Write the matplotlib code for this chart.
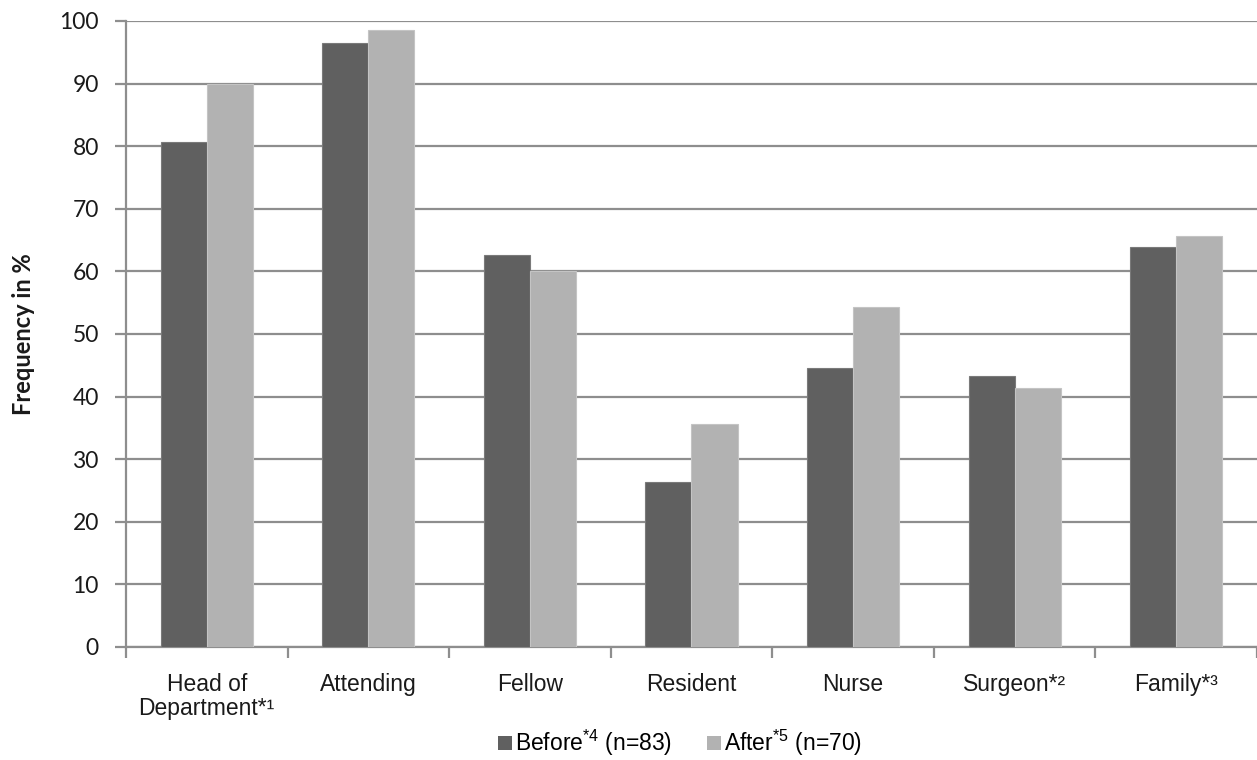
import matplotlib
matplotlib.use("Agg")
import matplotlib.pyplot as plt
import numpy as np
from matplotlib.patches import Patch

plt.rcParams["mathtext.fontset"] = "custom"
plt.rcParams["mathtext.rm"] = "Liberation Sans"
plt.rcParams["mathtext.it"] = "Liberation Sans:italic"
plt.rcParams["mathtext.bf"] = "Liberation Sans:bold"

categories = ["Head of\nDepartment*¹", "Attending", "Fellow", "Resident",
              "Nurse", "Surgeon*²", "Family*³"]
before = [80.7, 96.5, 62.6, 26.4, 44.6, 43.3, 63.9]
after = [90.0, 98.6, 60.1, 35.6, 54.3, 41.4, 65.7]
series_labels = ["Before$^{\\mathregular{*4}}$ (n=83)", "After$^{\\mathregular{*5}}$ (n=70)"]
y_ticks = list(range(0, 101, 10))

dark = "#606060"
light = "#b2b2b2"
grid_col = "#8e8e8e"
txt_fam = ["Liberation Sans", "DejaVu Sans"]
num_fam = ["Lato", "DejaVu Sans"]

fig = plt.figure(figsize=(12.57, 7.60), dpi=100)
ax = fig.add_axes([0.1002, 0.1487, 0.8998, 0.8237])

x = np.arange(len(categories))
w = 0.285
ax.bar(x - w / 2, before, width=w, color=dark, edgecolor="#7a7a7a", linewidth=0.8, zorder=3)
ax.bar(x + w / 2, after, width=w, color=light, edgecolor="#c4c4c4", linewidth=0.8, zorder=3)

ax.set_xlim(-0.5, len(categories) - 0.5)
ax.set_ylim(0, 100)
ax.set_yticks(y_ticks)
ax.set_yticklabels([str(t) for t in y_ticks], fontsize=16.5, family=num_fam, color="#1a1a1a")
ax.yaxis.grid(True, color=grid_col, linewidth=1.6, zorder=0)
ax.set_axisbelow(True)

ax.set_xticks(x)
ax.set_xticklabels(categories, fontsize=16.5, family=txt_fam, color="#1a1a1a",
                   linespacing=1.05, va="top")
ax.tick_params(axis="x", length=0, pad=19)
ax.set_xticks(np.arange(len(categories) + 1) - 0.5, minor=True)
ax.tick_params(axis="x", which="minor", length=8, width=1.6, color=grid_col)
ax.tick_params(axis="y", length=8, width=1.6, color=grid_col, pad=11.5)

for side in ["top", "right"]:
    ax.spines[side].set_visible(False)
for side in ["left", "bottom"]:
    ax.spines[side].set_color(grid_col)
    ax.spines[side].set_linewidth(1.6)

ax.set_ylabel("Frequency in %", fontsize=17, fontweight="bold", family=num_fam,
              color="#1a1a1a")
ax.yaxis.set_label_coords(-0.08, 0.5)

handles = [Patch(facecolor=dark, edgecolor="none"), Patch(facecolor=light, edgecolor="none")]
fig.legend(handles, series_labels, loc="center", bbox_to_anchor=(0.541, 0.022), ncol=2,
           frameon=False, handlelength=0.6, handleheight=0.6, handletextpad=0.15,
           columnspacing=1.5, prop={"family": txt_fam, "size": 16.5})

fig.savefig("out.png", dpi=100, facecolor="white")
